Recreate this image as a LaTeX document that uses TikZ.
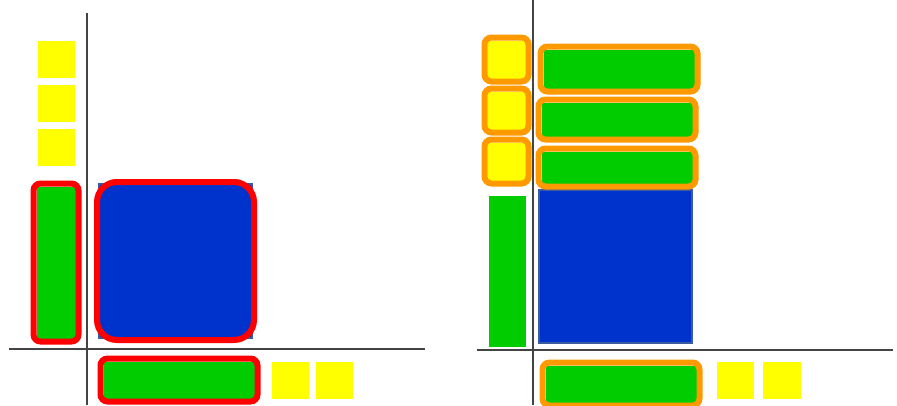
\documentclass[tikz,border=0pt]{standalone}
\usepackage{tikz}
\usetikzlibrary{positioning,fit}
\definecolor{cyel}{RGB}{255,255,0}
\definecolor{cgrn}{RGB}{0,204,0}
\definecolor{cblu}{RGB}{0,51,204}
\definecolor{cblb}{RGB}{60,90,160}
\definecolor{cred}{RGB}{255,0,0}
\definecolor{corg}{RGB}{255,153,0}
\definecolor{caxis}{RGB}{68,68,68}
\tikzset{
  blk/.style={rectangle,inner sep=0pt,outer sep=0pt,anchor=north west},
  ybox/.style={blk,fill=cyel,draw=white,line width=1pt},
  gbox/.style={blk,fill=cgrn,draw=white,line width=1pt},
  bbox/.style={blk,fill=cblu,draw=cblb,line width=1.5pt},
  % highlight rings drawn over the blocks
  hl/.style={rectangle,rounded corners=7pt,line width=6pt,inner sep=2.5pt},
  redhl/.style={hl,draw=cred},
  orghl/.style={hl,draw=corg},
  axisline/.style={caxis,line width=1.5pt}
}
\begin{document}
\begin{tikzpicture}[x=1pt,y=-1pt]
  \useasboundingbox (0,0) rectangle (897,405);
  % left panel
  \draw[axisline] (87,13) coordinate (lt) -- (87,405) coordinate (lbt);
  \draw[axisline] (9,349) coordinate (ll) -- (425,349) coordinate (lr);
  \node[ybox,minimum width=38pt,minimum height=38pt] (ly1) at (37,40) {};
  \node[ybox,minimum width=38pt,minimum height=38pt,below=6pt of ly1.south west,anchor=north west] (ly2) {};
  \node[ybox,minimum width=38pt,minimum height=38pt,below=6pt of ly2.south west,anchor=north west] (ly3) {};
  \node[gbox,minimum width=40pt,minimum height=153pt] (lg) at (36,186) {};
  \node[bbox,minimum width=153pt,minimum height=154pt] (lb) at (99,184) {};
  \node[gbox,minimum width=152pt,minimum height=38pt] (lgb) at (103,361) {};
  \node[ybox,minimum width=38pt,minimum height=38pt] (lyb1) at (271,361) {};
  \node[ybox,minimum width=38pt,minimum height=38pt,right=6pt of lyb1.north east,anchor=north west] (lyb2) {};
  \node[redhl,fit=(lg)] {};
  \node[redhl,fit=(lb),rounded corners=20pt,inner sep=2pt] {};
  \node[redhl,fit=(lgb)] {};
  % right panel
  \draw[axisline] (533,0) coordinate (rt) -- (533,405) coordinate (rbt);
  \draw[axisline] (477,350) coordinate (rl) -- (893,350) coordinate (rr);
  \node[ybox,minimum width=39pt,minimum height=39pt] (ry1) at (487,40) {};
  \node[ybox,minimum width=39pt,minimum height=39pt,below=12pt of ry1.south west,anchor=north west] (ry2) {};
  \node[ybox,minimum width=39pt,minimum height=39pt,below=12pt of ry2.south west,anchor=north west] (ry3) {};
  \node[gbox,minimum width=38pt,minimum height=152pt] (rg) at (488,195) {};
  \node[bbox,minimum width=153pt,minimum height=153pt] (rb) at (539,190) {};
  \node[gbox,minimum width=152pt,minimum height=40pt] (rg1) at (543,49) {};
  \node[gbox,minimum width=152pt,minimum height=35pt] (rg2) at (541,102) {};
  \node[gbox,minimum width=152pt,minimum height=33pt] (rg3) at (541,151) {};
  \node[gbox,minimum width=152pt,minimum height=38pt] (rgb) at (545,365) {};
  \node[ybox,minimum width=38pt,minimum height=38pt] (ryb1) at (716,361) {};
  \node[ybox,minimum width=39pt,minimum height=38pt,right=8pt of ryb1.north east,anchor=north west] (ryb2) {};
  \foreach \n in {ry1,ry2,ry3,rg1,rg2,rg3,rgb}
    \node[orghl,fit=(\n)] {};
\end{tikzpicture}
\end{document}
